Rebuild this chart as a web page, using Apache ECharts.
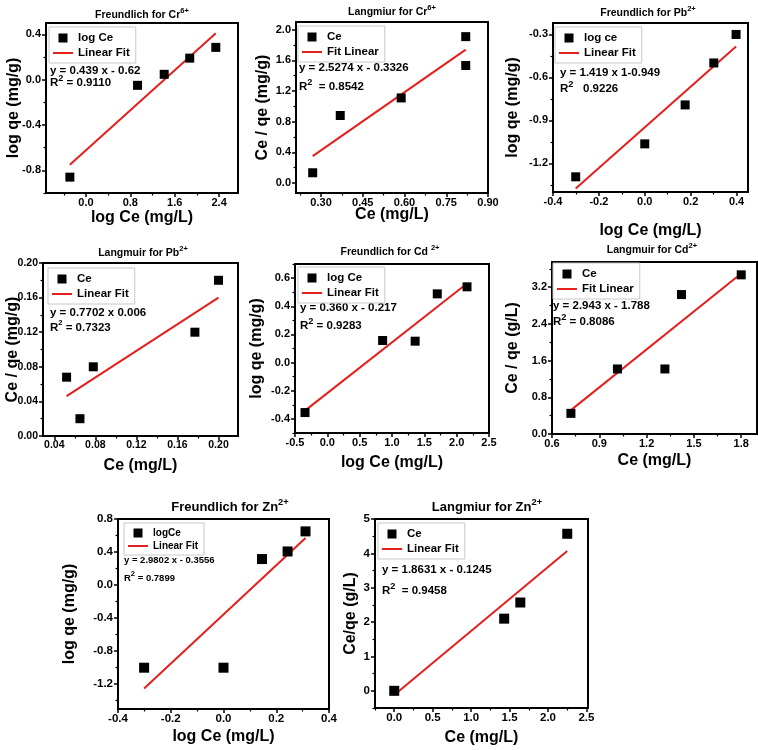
<!DOCTYPE html>
<html><head><meta charset="utf-8">
<script src="https://cdn.jsdelivr.net/npm/echarts@6/dist/echarts.min.js"></script>
<style>html,body{margin:0;padding:0;background:#fff}#c{width:758px;height:750px}</style>
</head><body><div id="c"></div>
<script>
// ================= DATA =================
// Freundlich for Cr6+
const frCr_x = [-0.29, 0.93, 1.41, 1.87, 2.34];
const frCr_y = [-0.86, -0.05, 0.047, 0.19, 0.285];
const frCr_fitX = [-0.29, 2.34];
const frCr_fitY = [-0.75, 0.41];
const frCr_xTicks = ['0.0', '0.8', '1.6', '2.4'];
const frCr_yTicks = ['-0.8', '-0.4', '0.0', '0.4'];
const frCr_title = ['Freundlich for Cr', '6+'];
const frCr_legend = ['log Ce', 'Linear Fit'];
const frCr_eq = ['y = 0.439 x - 0.62', ' = 0.9110'];
const frCr_axes = ['log Ce (mg/L)', 'log qe (mg/g)'];

// Langmiur for Cr6+
const laCr_x = [0.27, 0.369, 0.588, 0.82, 0.82];
const laCr_y = [0.134, 0.881, 1.11, 1.909, 1.533];
const laCr_fitX = [0.27, 0.82];
const laCr_fitY = [0.35, 1.74];
const laCr_xTicks = ['0.30', '0.45', '0.60', '0.75', '0.90'];
const laCr_yTicks = ['0.0', '0.4', '0.8', '1.2', '1.6', '2.0'];
const laCr_title = ['Langmiur for Cr', '6+'];
const laCr_legend = ['Ce', 'Fit Linear'];
const laCr_eq = ['y = 2.5274 x - 0.3326', '  = 0.8542'];
const laCr_axes = ['Ce (mg/L)', 'Ce / qe (mg/g)'];

// Freundlich for Pb2+
const frPb_x = [-0.301, 0.0, 0.176, 0.301, 0.398];
const frPb_y = [-1.294, -1.064, -0.792, -0.499, -0.30];
const frPb_fitX = [-0.301, 0.398];
const frPb_fitY = [-1.376, -0.384];
const frPb_xTicks = ['-0.4', '-0.2', '0.0', '0.2', '0.4'];
const frPb_yTicks = ['-1.2', '-0.9', '-0.6', '-0.3'];
const frPb_title = ['Freundlich for Pb', '2+'];
const frPb_legend = ['log ce', 'Linear Fit'];
const frPb_eq = ['y = 1.419 x 1-0.949', '   0.9226'];
const frPb_axes = ['log Ce (mg/L)', 'log qe (mg/g)'];

// Langmuir for Pb2+
const laPb_x = [0.052, 0.065, 0.078, 0.177, 0.20];
const laPb_y = [0.068, 0.02, 0.08, 0.12, 0.18];
const laPb_fitX = [0.052, 0.20];
const laPb_fitY = [0.046, 0.160];
const laPb_xTicks = ['0.04', '0.08', '0.12', '0.16', '0.20'];
const laPb_yTicks = ['0.00', '0.04', '0.08', '0.12', '0.16', '0.20'];
const laPb_title = ['Langmuir for Pb', '2+'];
const laPb_legend = ['Ce', 'Linear Fit'];
const laPb_eq = ['y = 0.7702 x 0.006', ' = 0.7323'];
const laPb_axes = ['Ce (mg/L)', 'Ce / qe (mg/g)'];

// Freundlich for Cd 2+
const frCd_x = [-0.345, 0.855, 1.358, 1.70, 2.16];
const frCd_y = [-0.355, 0.157, 0.152, 0.488, 0.538];
const frCd_fitX = [-0.345, 2.16];
const frCd_fitY = [-0.341, 0.561];
const frCd_xTicks = ['-0.5', '0.0', '0.5', '1.0', '1.5', '2.0', '2.5'];
const frCd_yTicks = ['-0.4', '-0.2', '0.0', '0.2', '0.4', '0.6'];
const frCd_title = ['Freundlich for Cd ', '2+'];
const frCd_legend = ['log Ce', 'Linear Fit'];
const frCd_eq = ['y = 0.360 x - 0.217', ' = 0.9283'];
const frCd_axes = ['log Ce (mg/L)', 'log qe (mg/g)'];

// Langmuir for Cd2+
const laCd_x = [0.72, 1.015, 1.316, 1.421, 1.80];
const laCd_y = [0.45, 1.418, 1.418, 3.04, 3.47];
const laCd_fitX = [0.72, 1.80];
const laCd_fitY = [0.52, 3.50];
const laCd_xTicks = ['0.6', '0.9', '1.2', '1.5', '1.8'];
const laCd_yTicks = ['0.0', '0.8', '1.6', '2.4', '3.2'];
const laCd_title = ['Langmuir for Cd', '2+'];
const laCd_legend = ['Ce', 'Fit Linear'];
const laCd_eq = ['y = 2.943 x - 1.788', ' = 0.8086'];
const laCd_axes = ['Ce (mg/L)', 'Ce / qe (g/L)'];

// Freundlich for Zn2+
const frZn_x = [-0.301, 0.0, 0.146, 0.243, 0.311];
const frZn_y = [-1.0, -1.0, 0.315, 0.407, 0.65];
const frZn_fitX = [-0.301, 0.311];
const frZn_fitY = [-1.253, 0.571];
const frZn_xTicks = ['-0.4', '-0.2', '0.0', '0.2', '0.4'];
const frZn_yTicks = ['-1.2', '-0.8', '-0.4', '0.0', '0.4', '0.8'];
const frZn_title = ['Freundlich for Zn', '2+'];
const frZn_legend = ['logCe', 'Linear Fit'];
const frZn_eq = ['y = 2.9802 x - 0.3556', ' = 0.7899'];
const frZn_axes = ['log Ce (mg/L)', 'log qe (mg/g)'];

// Langmiur for Zn2+
const laZn_x = [0.0, 1.43, 1.64, 2.25];
const laZn_y = [0.0, 2.1, 2.57, 4.57];
const laZn_fitX = [0.0, 2.25];
const laZn_fitY = [-0.12, 4.07];
const laZn_xTicks = ['0.0', '0.5', '1.0', '1.5', '2.0', '2.5'];
const laZn_yTicks = ['0', '1', '2', '3', '4', '5'];
const laZn_title = ['Langmiur for Zn', '2+'];
const laZn_legend = ['Ce', 'Linear Fit'];
const laZn_eq = ['y = 1.8631 x - 0.1245', '  = 0.9458'];
const laZn_axes = ['Ce (mg/L)', 'Ce/qe (g/L)'];

// ================= PANELS (data refs) =================
const panels = [
  {x: frCr_x, y: frCr_y, fx: frCr_fitX, fy: frCr_fitY, xt: frCr_xTicks, yt: frCr_yTicks, title: frCr_title, legend: frCr_legend, eq: frCr_eq, axes: frCr_axes},
  {x: laCr_x, y: laCr_y, fx: laCr_fitX, fy: laCr_fitY, xt: laCr_xTicks, yt: laCr_yTicks, title: laCr_title, legend: laCr_legend, eq: laCr_eq, axes: laCr_axes},
  {x: frPb_x, y: frPb_y, fx: frPb_fitX, fy: frPb_fitY, xt: frPb_xTicks, yt: frPb_yTicks, title: frPb_title, legend: frPb_legend, eq: frPb_eq, axes: frPb_axes},
  {x: laPb_x, y: laPb_y, fx: laPb_fitX, fy: laPb_fitY, xt: laPb_xTicks, yt: laPb_yTicks, title: laPb_title, legend: laPb_legend, eq: laPb_eq, axes: laPb_axes},
  {x: frCd_x, y: frCd_y, fx: frCd_fitX, fy: frCd_fitY, xt: frCd_xTicks, yt: frCd_yTicks, title: frCd_title, legend: frCd_legend, eq: frCd_eq, axes: frCd_axes},
  {x: laCd_x, y: laCd_y, fx: laCd_fitX, fy: laCd_fitY, xt: laCd_xTicks, yt: laCd_yTicks, title: laCd_title, legend: laCd_legend, eq: laCd_eq, axes: laCd_axes},
  {x: frZn_x, y: frZn_y, fx: frZn_fitX, fy: frZn_fitY, xt: frZn_xTicks, yt: frZn_yTicks, title: frZn_title, legend: frZn_legend, eq: frZn_eq, axes: frZn_axes},
  {x: laZn_x, y: laZn_y, fx: laZn_fitX, fy: laZn_fitY, xt: laZn_xTicks, yt: laZn_yTicks, title: laZn_title, legend: laZn_legend, eq: laZn_eq, axes: laZn_axes}
];

// ================= LAYOUT / STYLE =================
const layout = [
  {grid: [46, 23, 192, 170], xr: [-0.72, 2.74], yr: [-1.0, 0.5], xGap: 17, yGap: 24, title: [142, 15, 10.5], leg: [49, 27, 11.5], eq: [50, 71, 83, 11.5], tick: 11, sym: 9},
  {grid: [296, 22, 192, 171], xr: [0.21, 0.90], yr: [-0.13, 2.1], xGap: 14, yGap: 25, title: [392, 12, 10.5], leg: [298, 26, 11.5], eq: [299, 68, 87, 11.5], tick: 11, sym: 9},
  {grid: [553, 23, 195, 169], xr: [-0.4, 0.45], yr: [-1.40, -0.22], xGap: 31, yGap: 32, title: [648, 13, 10.5], leg: [555, 27, 11.5], eq: [560, 73, 89, 11.5], tick: 11, sym: 9},
  {grid: [43, 263, 195, 173], xr: [0.029, 0.219], yr: [0, 0.2], xGap: 22, yGap: 22, title: [143, 253, 10.5], leg: [48, 268, 11.5], eq: [50, 313, 328, 11.5], tick: 10.5, sym: 9},
  {grid: [295, 264, 194, 169], xr: [-0.5, 2.5], yr: [-0.5, 0.7], xGap: 22, yGap: 30, title: [390, 252, 10.5], leg: [298, 267, 11.5], eq: [300, 308, 326, 11.5], tick: 11, sym: 9},
  {grid: [552, 262, 205, 172], xr: [0.6, 1.9], yr: [0, 3.75], xGap: 19, yGap: 31, title: [652, 250, 10.5], leg: [553, 263, 11.5], eq: [553, 306, 322, 11.5], tick: 11, sym: 9},
  {grid: [118, 519, 211, 190], xr: [-0.4, 0.4], yr: [-1.5, 0.8], xGap: 20, yGap: 40, title: [230, 507, 13], leg: [124, 523, 10], eq: [124, 560, 578, 9.5], tick: 11.5, sym: 10},
  {grid: [375, 519, 213, 189], xr: [-0.25, 2.52], yr: [-0.5, 5], xGap: 22, yGap: 16, title: [487, 507, 13], leg: [378, 523, 11.5], eq: [382, 570, 591, 11.5], tick: 11.5, sym: 10}
];

const FONT = '"Liberation Sans", Arial, Helvetica, sans-serif';
const RED = '#e3201c';
const BLACK = '#000';

function minorOf(vals, min, max) {
  const out = [];
  for (let i = 0; i < vals.length - 1; i++) out.push((vals[i] + vals[i + 1]) / 2);
  if (vals.length > 1) {
    const h = (vals[1] - vals[0]) / 2;
    out.push(vals[0] - h, vals[vals.length - 1] + h);
  }
  return out.filter(v => v >= min - 1e-9 && v <= max + 1e-9);
}
function fmt(labels, vals) {
  return v => { const k = vals.findIndex(t => Math.abs(t - v) < 1e-9); return k < 0 ? '' : labels[k]; };
}
function supText(x, y, main, sup, rest, size, supRatio, align) {
  return {type: 'text', x: x, y: y, silent: true,
    style: {text: '{m|' + main + '}{s|' + sup + '}' + (rest ? '{m|' + rest + '}' : ''), align: align, verticalAlign: 'middle',
      fill: BLACK, fontFamily: FONT, fontWeight: 'bold', fontSize: size,
      rich: {m: {fontFamily: FONT, fontWeight: 'bold', fontSize: size, fill: BLACK, lineHeight: size + 6},
             s: {fontFamily: FONT, fontWeight: 'bold', fontSize: size * supRatio, fill: BLACK, verticalAlign: 'top'}}}};
}

const grid = [], xAxis = [], yAxis = [], series = [], legend = [], graphic = [];

panels.forEach((D, i) => {
  const L = layout[i];
  grid.push({left: L.grid[0], top: L.grid[1], width: L.grid[2], height: L.grid[3],
    show: true, borderColor: BLACK, borderWidth: 2, backgroundColor: 'transparent',
    containLabel: false, outerBoundsMode: 'none'});
  const xv = D.xt.map(Number), yv = D.yt.map(Number);
  const lab = {fontFamily: FONT, fontWeight: 'bold', fontSize: L.tick, color: BLACK};
  const nameStyle = {fontFamily: FONT, fontWeight: 'bold', fontSize: 16, color: BLACK};
  xAxis.push({type: 'value', gridIndex: i, position: 'bottom', min: L.xr[0], max: L.xr[1],
    axisLine: {show: true, onZero: false, lineStyle: {color: BLACK, width: 2}},
    axisTick: {show: true, inside: false, length: 4, customValues: xv, lineStyle: {color: BLACK, width: 1.5}},
    axisLabel: Object.assign({show: true, customValues: xv, formatter: fmt(D.xt, xv), margin: 4}, lab),
    splitLine: {show: false}, minorTick: {show: false},
    name: D.axes[0], nameLocation: 'middle', nameGap: L.xGap, nameMoveOverlap: false, nameTextStyle: nameStyle});
  xAxis.push({type: 'value', gridIndex: i, position: 'bottom', min: L.xr[0], max: L.xr[1],
    axisLine: {show: false, onZero: false},
    axisTick: {show: true, inside: false, length: 2.5, customValues: minorOf(xv, L.xr[0], L.xr[1]), lineStyle: {color: BLACK, width: 1.2}},
    axisLabel: {show: false}, splitLine: {show: false}});
  yAxis.push({type: 'value', gridIndex: i, position: 'left', min: L.yr[0], max: L.yr[1],
    axisLine: {show: true, onZero: false, lineStyle: {color: BLACK, width: 2}},
    axisTick: {show: true, inside: false, length: 4, customValues: yv, lineStyle: {color: BLACK, width: 1.5}},
    axisLabel: Object.assign({show: true, customValues: yv, formatter: fmt(D.yt, yv), margin: 5}, lab),
    splitLine: {show: false}, minorTick: {show: false},
    name: D.axes[1], nameLocation: 'middle', nameGap: L.yGap, nameRotate: 90, nameMoveOverlap: false, nameTextStyle: nameStyle});
  yAxis.push({type: 'value', gridIndex: i, position: 'left', min: L.yr[0], max: L.yr[1],
    axisLine: {show: false, onZero: false},
    axisTick: {show: true, inside: false, length: 2.5, customValues: minorOf(yv, L.yr[0], L.yr[1]), lineStyle: {color: BLACK, width: 1.2}},
    axisLabel: {show: false}, splitLine: {show: false}});

  series.push({type: 'line', name: D.legend[1], xAxisIndex: 2 * i, yAxisIndex: 2 * i,
    data: D.fx.map((v, k) => [v, D.fy[k]]), symbol: 'none', z: 2,
    lineStyle: {color: RED, width: 2}, itemStyle: {color: RED}, animation: false});
  series.push({type: 'scatter', name: D.legend[0], xAxisIndex: 2 * i, yAxisIndex: 2 * i,
    data: D.x.map((v, k) => [v, D.y[k]]), symbol: 'rect', symbolSize: L.sym, z: 3,
    itemStyle: {color: BLACK, opacity: 1}, animation: false});

  legend.push({left: L.leg[0], top: L.leg[1], orient: 'vertical', itemWidth: 20, itemHeight: 9, itemGap: 3,
    padding: [5, 6, 4, 4], borderColor: '#c8c8c8', borderWidth: 1, selectedMode: false,
    textStyle: {fontFamily: FONT, fontWeight: 'bold', fontSize: L.leg[2], color: BLACK},
    data: [{name: D.legend[0], icon: 'path://M0,0H10V10H0Z', itemStyle: {color: BLACK, opacity: 1}},
           {name: D.legend[1], icon: 'path://M0,0H20V2H0Z', itemStyle: {color: RED}}]});

  graphic.push(supText(L.title[0], L.title[1], D.title[0], D.title[1], '', L.title[2], 0.72, 'center'));
  graphic.push({type: 'text', x: L.eq[0], y: L.eq[1], silent: true,
    style: {text: D.eq[0], align: 'left', verticalAlign: 'middle', fill: BLACK, fontFamily: FONT, fontWeight: 'bold', fontSize: L.eq[3]}});
  graphic.push(supText(L.eq[0], L.eq[2], 'R', '2', D.eq[1], L.eq[3], i === 3 ? 0.65 : 0.8, 'left'));
});

const chart = echarts.init(document.getElementById('c'), null, {renderer: 'canvas'});
chart.setOption({backgroundColor: '#fff', animation: false, grid, xAxis, yAxis, series, legend, graphic});
</script></body></html>
